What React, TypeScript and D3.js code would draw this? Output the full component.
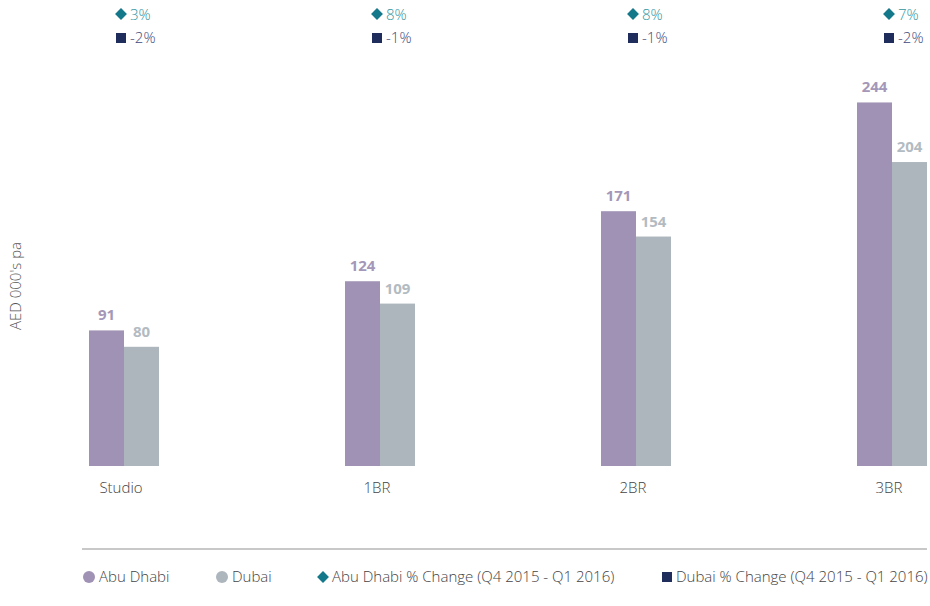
import React from "react";
import * as d3 from "d3";

const categories = ["Studio", "1BR", "2BR", "3BR"];
const abuDhabi = [91, 124, 171, 244];
const dubai = [80, 109, 154, 204];
const abuDhabiChange = ["3%", "8%", "8%", "7%"];
const dubaiChange = ["-2%", "-1%", "-1%", "-2%"];
const legendItems = [
  { label: "Abu Dhabi", shape: "circle", color: "#a092b4", x: 89 },
  { label: "Dubai", shape: "circle", color: "#adb6bd", x: 222 },
  { label: "Abu Dhabi % Change (Q4 2015 - Q1 2016)", shape: "diamond", color: "#13788a", x: 323 },
  { label: "Dubai % Change (Q4 2015 - Q1 2016)", shape: "square", color: "#1f2d5c", x: 667 },
];

const W = 930;
const H = 606;
const FONT = "'Open Sans', sans-serif";
const ADC = "#a092b4";
const DBC = "#adb6bd";

export default function App() {
  const x = d3.scalePoint<string>().domain(categories).range([124, 892]);
  const y = d3.scaleLinear().domain([0, 300]).range([466, 19]);
  const bw = 35;
  const diamond = d3.symbol().type(d3.symbolDiamond2).size(90)() as string;

  return (
    <div style={{ position: "absolute", left: 0, top: 0 }}>
      <svg width={W} height={H} style={{ display: "block", fontFamily: FONT }}>
        <rect width={W} height={H} fill="#fff" />
        <text
          transform={`translate(21,286) rotate(-90)`}
          textAnchor="middle"
          fontSize={15}
          fontWeight={300}
          fill="#555"
        >
          AED 000's pa
        </text>
        {categories.map((c, i) => {
          const cx = x(c) as number;
          return (
            <g key={c}>
              <rect x={cx - bw} y={y(abuDhabi[i])} width={bw} height={y(0) - y(abuDhabi[i])} fill={ADC} />
              <rect x={cx} y={y(dubai[i])} width={bw} height={y(0) - y(dubai[i])} fill={DBC} />
              <text x={cx - bw / 2} y={y(abuDhabi[i]) - 10} textAnchor="middle" fontSize={15} fontWeight="bold" fill="#a497b8">
                {abuDhabi[i]}
              </text>
              <text x={cx + bw / 2} y={y(dubai[i]) - 10} textAnchor="middle" fontSize={15} fontWeight="bold" fill="#b3bbc2">
                {dubai[i]}
              </text>
              <text x={cx - 3} y={493} textAnchor="middle" fontSize={15} fontWeight={300} fill="#444">
                {c}
              </text>
              <path d={diamond} transform={`translate(${cx - 3},14)`} fill="#13788a" />
              <text x={cx + 6} y={20} fontSize={15} fontWeight={300} fill="#2f96a2">
                {abuDhabiChange[i]}
              </text>
              <rect x={cx - 8} y={33} width={10} height={10} fill="#1f2d5c" />
              <text x={cx + 6} y={43} fontSize={15} fontWeight={300} fill="#3f4a7a">
                {dubaiChange[i]}
              </text>
            </g>
          );
        })}
        <line x1={82} x2={927} y1={549} y2={549} stroke="#c8c8c8" strokeWidth={2} />
        {legendItems.map((it) => (
          <g key={it.label}>
            {it.shape === "circle" && <circle cx={it.x} cy={577} r={6} fill={it.color} />}
            {it.shape === "diamond" && <path d={diamond} transform={`translate(${it.x},577)`} fill={it.color} />}
            {it.shape === "square" && <rect x={it.x - 5} y={572} width={10} height={10} fill={it.color} />}
            <text x={it.x + (it.shape === "circle" ? 10 : 9)} y={582} fontSize={15} fontWeight={300} fill="#444">
              {it.label}
            </text>
          </g>
        ))}
      </svg>
    </div>
  );
}
